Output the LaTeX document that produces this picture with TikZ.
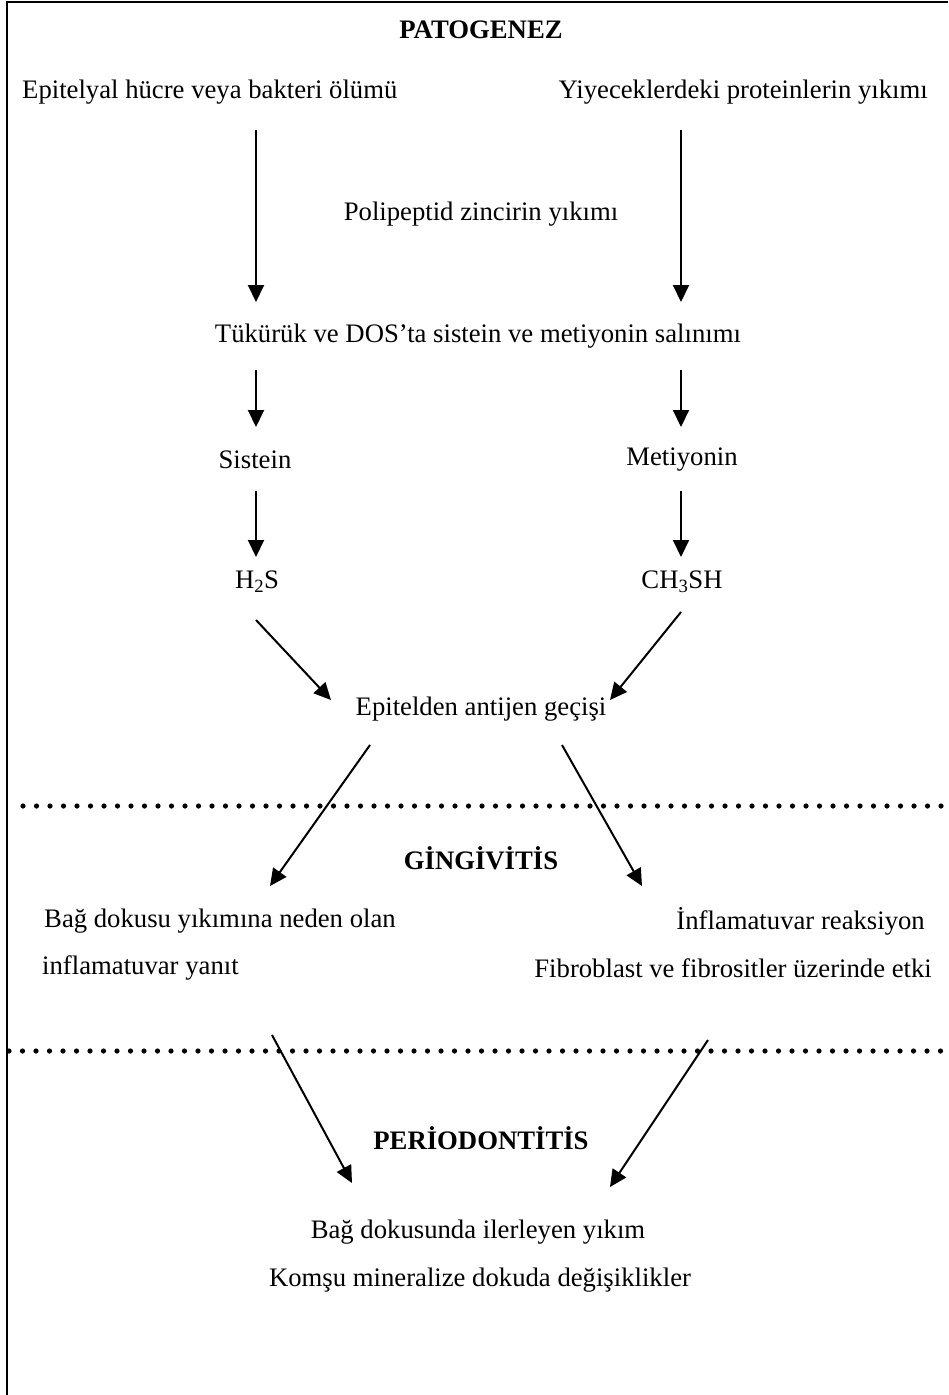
\documentclass[tikz,border=0pt]{standalone}
\usepackage{fontspec}
\setmainfont{Liberation Serif}
\usetikzlibrary{arrows.meta}
\begin{document}
\begin{tikzpicture}[x=1pt,y=-1pt,
  txt/.style={inner sep=0pt,font=\fontsize{26.7}{30}\selectfont},
  head/.style={inner sep=0pt,font=\fontsize{26.7}{30}\selectfont\bfseries},
  arr/.style={line width=2pt,-{Triangle[width=16pt,length=17pt]}},
  dotline/.style={line width=5.2pt,line cap=round,dash pattern=on 0pt off 13.5pt},
  frame/.style={line width=2.2pt}]
\useasboundingbox (0,0) rectangle (948,1395);
% frame
\coordinate (ftl) at (7,2);
\coordinate (ftr) at (948,2);
\coordinate (fbl) at (7,1395);
\draw[frame] (ftr) -- (ftl) -- (fbl);
% headings
\node[head] (pat) at (481,30) {PATOGENEZ};
\node[head] (gin) at (481,858) {GİNGİVİTİS};
\node[head] (per) at (481,1138) {PERİODONTİTİS};
% texts
\node[txt,anchor=west] (epi) at (22,92) {Epitelyal hücre veya bakteri ölümü};
\node[txt,anchor=east] (yiy) at (928,92) {Yiyeceklerdeki proteinlerin yıkımı};
\node[txt] (pol) at (481,214) {Polipeptid zincirin yıkımı};
\node[txt] (tuk) at (478,336) {Tükürük ve DOS’ta sistein ve metiyonin salınımı};
\node[txt] (sis) at (255,460) {Sistein};
\node[txt] (met) at (682,460) {Metiyonin};
\node[txt] (h2s) at (257,582) {H\textsubscript{2}S};
\node[txt] (ch3) at (682,582) {CH\textsubscript{3}SH};
\node[txt] (ant) at (481,709) {Epitelden antijen geçişi};
\node[txt,anchor=west] (bag1) at (44,921) {Bağ dokusu yıkımına neden olan};
\node[txt,anchor=west] (bag2) at (42,968) {inflamatuvar yanıt};
\node[txt,anchor=east] (inf1) at (925,921) {İnflamatuvar reaksiyon};
\node[txt,anchor=east] (inf2) at (932,968) {Fibroblast ve fibrositler üzerinde etki};
\node[txt] (ilr) at (478,1232) {Bağ dokusunda ilerleyen yıkım};
\node[txt] (kom) at (480,1280) {Komşu mineralize dokuda değişiklikler};
% dotted lines
\coordinate (d1a) at (23,806); \coordinate (d1b) at (948,806);
\coordinate (d2a) at (9,1051); \coordinate (d2b) at (948,1051);
\draw[dotline] (d1a) -- (d1b);
\draw[dotline] (d2a) -- (d2b);
% arrow coordinates
\coordinate (a1s) at (256,130); \coordinate (a1e) at (256,302);
\coordinate (a2s) at (681,130); \coordinate (a2e) at (681,302);
\coordinate (a3s) at (256,370); \coordinate (a3e) at (256,427);
\coordinate (a4s) at (681,370); \coordinate (a4e) at (681,427);
\coordinate (a5s) at (256,491); \coordinate (a5e) at (256,557);
\coordinate (a6s) at (681,491); \coordinate (a6e) at (681,557);
\coordinate (a7s) at (256,620); \coordinate (a7e) at (331,700);
\coordinate (a8s) at (681,612); \coordinate (a8e) at (610,700);
\coordinate (a9s) at (370,745); \coordinate (a9e) at (270,886);
\coordinate (a10s) at (562,745); \coordinate (a10e) at (642,886);
\coordinate (a11s) at (272,1035); \coordinate (a11e) at (352,1183);
\coordinate (a12s) at (708,1040); \coordinate (a12e) at (610,1187);
\draw[arr] (a1s) -- (a1e);
\draw[arr] (a2s) -- (a2e);
\draw[arr] (a3s) -- (a3e);
\draw[arr] (a4s) -- (a4e);
\draw[arr] (a5s) -- (a5e);
\draw[arr] (a6s) -- (a6e);
\draw[arr] (a7s) -- (a7e);
\draw[arr] (a8s) -- (a8e);
\draw[arr] (a9s) -- (a9e);
\draw[arr] (a10s) -- (a10e);
\draw[arr] (a11s) -- (a11e);
\draw[arr] (a12s) -- (a12e);
\end{tikzpicture}
\end{document}
